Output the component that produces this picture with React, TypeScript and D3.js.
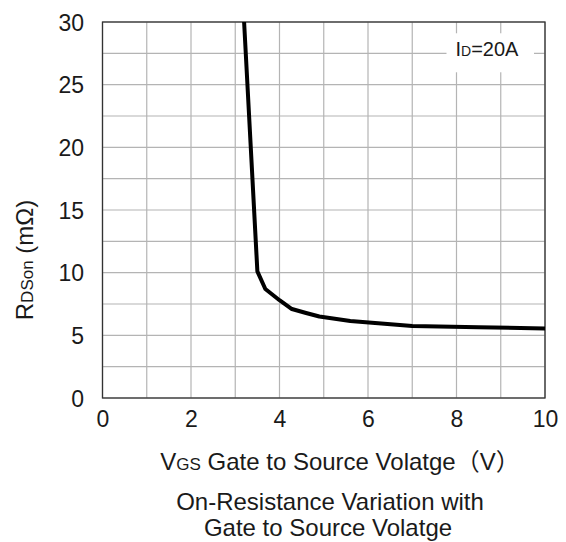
import React, { useRef, useEffect } from 'react';
import * as d3 from 'd3';

// VGS (V) vs RDSon (mOhm), ID = 20A
const vgs = [3.2, 3.5, 3.68, 4.0, 4.28, 4.6, 4.9, 5.6, 7.0, 8.5, 10];
const rdson = [30, 10.1, 8.7, 7.8, 7.1, 6.78, 6.5, 6.15, 5.75, 5.65, 5.55];

const xTicks = [0, 2, 4, 6, 8, 10];
const yTicks = [0, 5, 10, 15, 20, 25, 30];
const xGrid = d3.range(0, 11, 1);
const yGrid = d3.range(0, 30.1, 2.5);

const width = 566;
const height = 542;
const margin = { top: 22, right: 21, bottom: 144, left: 102.5 };
const font = '"Liberation Sans", Arial, "Noto Sans CJK SC", sans-serif';

const App = () => {
  const svgRef = useRef<SVGSVGElement>(null);

  useEffect(() => {
    const svgEl = d3.select(svgRef.current);
    svgEl.selectAll('*').remove();

    const w = width - margin.left - margin.right;
    const h = height - margin.top - margin.bottom;

    const x = d3.scaleLinear().domain([0, 10]).range([0, w]);
    const y = d3.scaleLinear().domain([0, 30]).range([h, 0]);

    const svg = svgEl.append('g').attr('transform', `translate(${margin.left},${margin.top})`);

    // grid
    svg.append('g')
      .selectAll('line')
      .data(xGrid)
      .join('line')
      .attr('x1', d => x(d)).attr('x2', d => x(d))
      .attr('y1', 0).attr('y2', h)
      .attr('stroke', '#b4b4b4')
      .attr('stroke-width', 1.2);

    svg.append('g')
      .selectAll('line')
      .data(yGrid)
      .join('line')
      .attr('x1', 0).attr('x2', w)
      .attr('y1', d => y(d)).attr('y2', d => y(d))
      .attr('stroke', '#b4b4b4')
      .attr('stroke-width', 1.2);

    // ID label with white backing
    const lx = x(8) - 10;
    svg.append('rect')
      .attr('x', lx)
      .attr('y', y(29.1))
      .attr('width', x(10) - 11 - lx)
      .attr('height', 39)
      .attr('fill', '#fff');
    const idText = svg.append('text')
      .attr('x', x(8) - 1)
      .attr('y', 34)
      .attr('font-family', font)
      .attr('font-size', 20)
      .attr('fill', '#1a1a1a');
    idText.append('tspan').text('I');
    idText.append('tspan').attr('font-size', 14).text('D');
    idText.append('tspan').text('=20A');

    // frame
    svg.append('rect')
      .attr('x', 0).attr('y', 0)
      .attr('width', w).attr('height', h)
      .attr('fill', 'none')
      .attr('stroke', '#333')
      .attr('stroke-width', 1.3);

    // data line
    const pts = vgs.map((v, i) => [v, rdson[i]] as [number, number]);
    const chartLine = d3.line<[number, number]>()
      .x(d => x(d[0]))
      .y(d => y(d[1]));
    svg.append('path')
      .attr('d', chartLine(pts))
      .attr('fill', 'none')
      .attr('stroke', '#000')
      .attr('stroke-width', 4)
      .attr('stroke-linejoin', 'round');

    // x axis
    const xAxisGroup = svg.append('g')
      .attr('transform', `translate(0,${h})`)
      .call(d3.axisBottom(x).tickValues(xTicks).tickSize(0).tickFormat(d => `${d}`));
    xAxisGroup.select('.domain').remove();
    xAxisGroup.selectAll('text')
      .attr('dy', null)
      .attr('y', 29)
      .attr('font-family', font)
      .attr('font-size', 23)
      .attr('fill', '#1a1a1a');

    // y axis
    const yAxisGroup = svg.append('g')
      .call(d3.axisLeft(y).tickValues(yTicks).tickSize(0).tickPadding(18.5).tickFormat(d => `${d}`));
    yAxisGroup.select('.domain').remove();
    yAxisGroup.selectAll('text')
      .attr('dy', '0.36em')
      .attr('font-family', font)
      .attr('font-size', 23)
      .attr('fill', '#1a1a1a');

    // y-axis title
    const yTitle = svgEl.append('text')
      .attr('transform', `translate(33,260) rotate(-90)`)
      .attr('text-anchor', 'middle')
      .attr('font-family', font)
      .attr('font-size', 24)
      .attr('fill', '#1a1a1a');
    yTitle.append('tspan').text('R');
    yTitle.append('tspan').attr('font-size', 17).text('DSon');
    yTitle.append('tspan').text(' (mΩ)');

    // x-axis title
    const xTitle = svgEl.append('text')
      .attr('x', 340)
      .attr('y', 470)
      .attr('text-anchor', 'middle')
      .attr('font-family', font)
      .attr('font-size', 24)
      .attr('fill', '#1a1a1a');
    xTitle.append('tspan').text('V');
    xTitle.append('tspan').attr('font-size', 17).text('GS');
    xTitle.append('tspan').text(' Gate to Source Volatge（V）');

    // caption
    svgEl.append('text')
      .attr('x', 330).attr('y', 510)
      .attr('text-anchor', 'middle')
      .attr('font-family', font)
      .attr('font-size', 24)
      .attr('fill', '#1a1a1a')
      .text('On-Resistance Variation with');
    svgEl.append('text')
      .attr('x', 328).attr('y', 536)
      .attr('text-anchor', 'middle')
      .attr('font-family', font)
      .attr('font-size', 24)
      .attr('fill', '#1a1a1a')
      .text('Gate to Source Volatge');
  }, []);

  return (
    <svg
      ref={svgRef}
      width={width}
      height={height}
      style={{ position: 'absolute', left: 0, top: 0, background: '#fff' }}
    ></svg>
  );
};

export default App;
